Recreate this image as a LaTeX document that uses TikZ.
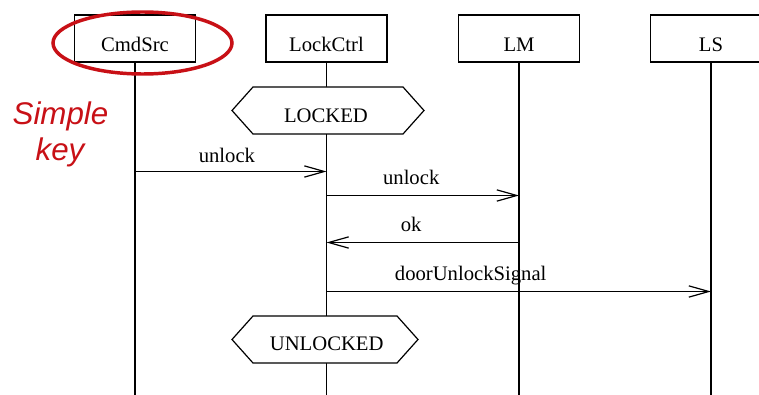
\documentclass[tikz,border=0pt]{standalone}
\usepackage{fontspec}
\setmainfont{Liberation Serif}
\newfontfamily\notefont{Liberation Sans}
\usetikzlibrary{arrows.meta,calc,shapes.geometric}

\definecolor{notered}{RGB}{200,16,22}

\tikzset{
  hdr/.style={draw, line width=0.9pt, minimum width=90.75pt, minimum height=35.25pt,
              inner sep=0pt, text height=20.25pt, text depth=0pt},
  life/.style={line width=0.9pt},
  msg/.style={line width=0.9pt, -{Straight Barb[length=15pt,width=8.5pt,line width=0.9pt]}},
  lbl/.style={anchor=base, yshift=8.25pt, inner sep=0pt},
  statetxt/.style={anchor=base, inner sep=0pt},
  hexline/.style={line width=0.9pt, fill=white},
}

% hexagonal state marker: centre, half width, half width of flat edge, half height
\newcommand{\statehex}[4]{%
  \draw[hexline] ($(#1)+(-#2,0)$) -- ($(#1)+(-#3,-#4)$) -- ($(#1)+(#3,-#4)$)
    -- ($(#1)+(#2,0)$) -- ($(#1)+(#3,#4)$) -- ($(#1)+(-#3,#4)$) -- cycle;}

\begin{document}
\begin{tikzpicture}[x=0.75pt, y=-0.75pt, font=\fontsize{15.5}{18}\selectfont]
  \useasboundingbox[fill=white] (0,0) rectangle (759,395);

  % participants
  \node[hdr] (CmdSrc)   at (135,38.5)   {CmdSrc};
  \node[hdr] (LockCtrl) at (326.5,38.5) {LockCtrl};
  \node[hdr] (LM)       at (519,38.5)   {LM};
  \node[hdr] (LS)       at (711,38.5)   {LS};

  % lifelines
  \coordinate (bot) at (0,395);
  \foreach \p in {CmdSrc,LockCtrl,LM,LS}
    \draw[life] (\p.south) -- (\p.south |- bot);

  % state markers
  \coordinate (lk) at (328,110.5);
  \statehex{lk}{96}{75}{23.5}
  \node[statetxt] (locked) at (326,123) {LOCKED};

  \coordinate (ulk) at (325,339.5);
  \statehex{ulk}{93}{72}{23.5}
  \node[statetxt] (unlocked) at (326.7,350) {UNLOCKED};

  % messages
  \coordinate (m1) at (0,171.5);
  \coordinate (m2) at (0,195.5);
  \coordinate (m3) at (0,242.5);
  \coordinate (m4) at (0,291.5);
  \draw[msg] (CmdSrc |- m1) -- (LockCtrl |- m1)
    node[lbl, pos=0.48, yshift=-1.5pt] {unlock};
  \draw[msg] (LockCtrl |- m2) -- (LM |- m2)
    node[lbl, pos=0.44] {unlock};
  \draw[msg] (LM |- m3) -- (LockCtrl |- m3)
    node[lbl, pos=0.56] {ok};
  \draw[msg] (LockCtrl |- m4) -- (LS |- m4)
    node[lbl, pos=0.375] {doorUnlockSignal};

  % highlight and note
  \node[draw=notered, line width=2.6pt, ellipse, inner sep=0pt,
        minimum width=134.25pt, minimum height=46.5pt] (hilite) at (142.5,43) {};
  \node[anchor=base, inner sep=0pt, text=notered, font=\notefont\itshape\fontsize{23.5}{27}\selectfont]
    (note1) at (60.5,125) {Simple};
  \node[anchor=base, inner sep=0pt, text=notered, font=\notefont\itshape\fontsize{23.5}{27}\selectfont]
    (note2) at (60,161) {key};
\end{tikzpicture}
\end{document}
